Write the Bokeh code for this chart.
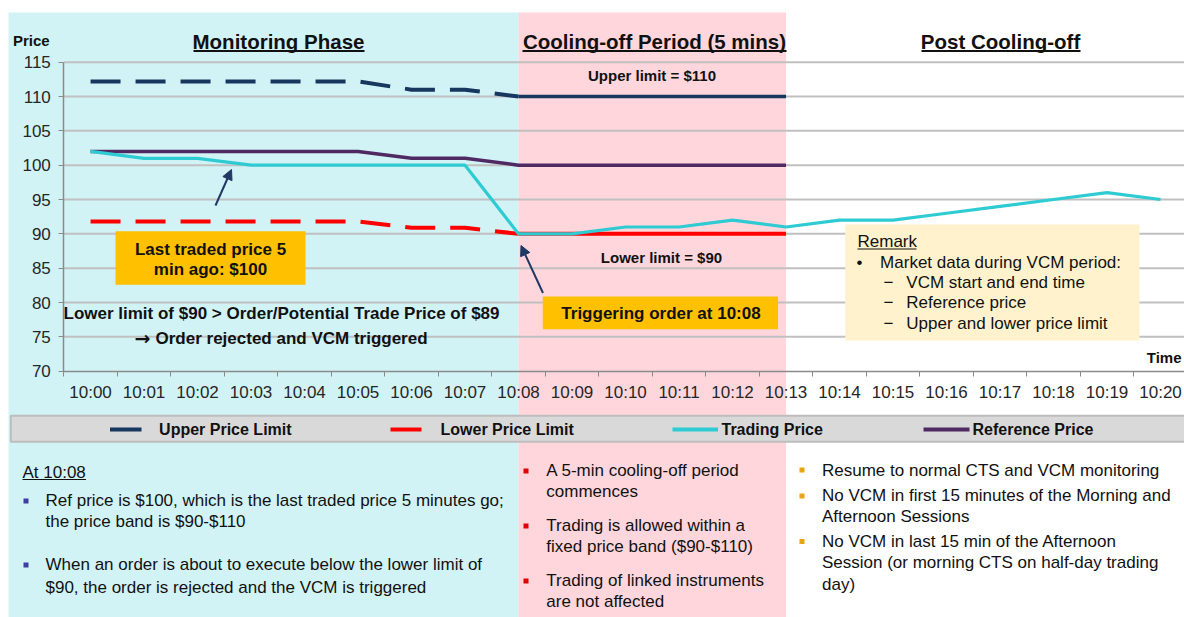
from bokeh.plotting import figure
from bokeh.models import Range1d, LinearAxis, FixedTicker, Arrow, NormalHead
from bokeh.core.properties import value
from bokeh.embed import file_html
from bokeh.resources import INLINE

# ---------------- data ----------------
times = ["10:00", "10:01", "10:02", "10:03", "10:04", "10:05", "10:06", "10:07",
         "10:08", "10:09", "10:10", "10:11", "10:12", "10:13", "10:14", "10:15",
         "10:16", "10:17", "10:18", "10:19", "10:20"]
upper_limit = [112.2, 112.2, 112.2, 112.2, 112.2, 112.2, 111.0, 111.0, 110.0,
               110.0, 110.0, 110.0, 110.0, 110.0]
lower_limit = [91.8, 91.8, 91.8, 91.8, 91.8, 91.8, 90.9, 90.9, 90.0,
               90.0, 90.0, 90.0, 90.0, 90.0]
reference_price = [102, 102, 102, 102, 102, 102, 101, 101, 100, 100, 100, 100, 100, 100]
trading_price = [102, 101, 101, 100, 100, 100, 100, 100, 90, 90, 91, 91, 92, 91,
                 92, 92, 93, 94, 95, 96, 95]
price_ticks = [70, 75, 80, 85, 90, 95, 100, 105, 110, 115]
legend_labels = ["Upper Price Limit", "Lower Price Limit", "Trading Price", "Reference Price"]

# ---------------- page-pixel helpers ----------------
W, H = 1184, 617
XS, X0 = 53.5, 90.05      # px per minute, page x of 10:00
YS, Y70 = 6.867, 370.7    # px per $, page y of $70


def dx(px):
    return (px - X0) / XS


def dy(py):
    return 70 + (Y70 - py) / YS


FONT = "Liberation Sans"
NAVY = "#17375E"
RED = "#FF0000"
CYAN = "#2ECBD3"
PURPLE = "#4F2A62"
ARROW = "#1F3864"

p = figure(width=W, height=H,
           x_range=Range1d(dx(0), dx(W)), y_range=Range1d(dy(H), dy(0)),
           output_backend="svg", toolbar_location=None,
           x_axis_location=None, y_axis_location=None,
           min_border=0, outline_line_color=None)
p.xgrid.visible = False
p.ygrid.visible = False
p.background_fill_color = "white"
p.border_fill_color = "white"

n_cool = len(reference_price)  # index range of monitoring + cooling-off

# background phases
p.quad(left=[dx(8)], right=[8], top=[dy(12)], bottom=[dy(H)],
       fill_color="#D1F3F6", line_color=None)
p.quad(left=[8], right=[n_cool - 1], top=[dy(12)], bottom=[dy(H)],
       fill_color="#FFD6DC", line_color=None)

# grid lines
p.segment(x0=[-0.5] * (len(price_ticks) - 1), x1=[dx(W)] * (len(price_ticks) - 1),
          y0=price_ticks[1:], y1=price_ticks[1:], line_color="#C0C0C0", line_width=2)

# axes
yax = LinearAxis(fixed_location=-0.5, ticker=FixedTicker(ticks=price_ticks),
                 bounds=(70, 115))
yax.axis_line_color = "#8A8A8A"
yax.axis_line_width = 1.5
yax.major_tick_line_color = "#8A8A8A"
yax.major_tick_out = 5
yax.major_tick_in = 0
yax.minor_tick_line_color = None
yax.major_label_standoff = 8
yax.major_label_text_font = FONT
yax.major_label_text_font_size = "17px"
yax.major_label_text_color = "#262626"
p.add_layout(yax, "left")

xidx = list(range(len(times)))
xax = LinearAxis(fixed_location=70,
                 ticker=FixedTicker(ticks=xidx, minor_ticks=[i - 0.5 for i in range(len(times) + 1)]),
                 bounds=(-0.5, dx(W)))
xax.major_label_overrides = {i: t for i, t in enumerate(times)}
xax.axis_line_color = "#8A8A8A"
xax.axis_line_width = 1.5
xax.major_tick_line_color = None
xax.major_tick_out = 0
xax.major_tick_in = 0
xax.minor_tick_line_color = "#8A8A8A"
xax.minor_tick_out = 5
xax.minor_tick_in = 0
xax.major_label_standoff = 7
xax.major_label_text_font = FONT
xax.major_label_text_font_size = "17px"
xax.major_label_text_color = "#262626"
p.add_layout(xax, "below")

# series
xc = list(range(n_cool))
p.line(xc[:9], upper_limit[:9], line_color=NAVY, line_width=4, line_dash="30 15")
p.line(xc[8:], upper_limit[8:], line_color=NAVY, line_width=3.5)
p.line(xc[:9], lower_limit[:9], line_color=RED, line_width=4, line_dash="30 15")
p.line(xc[8:], lower_limit[8:], line_color=RED, line_width=4)
p.line(xc, reference_price, line_color=PURPLE, line_width=3.5)
p.line(xidx, trading_price, line_color=CYAN, line_width=3.2)


def txt(px, py, s, size, bold=False, align="left", color="#111111", font=FONT):
    p.text(x=[dx(px)], y=[dy(py)], text=[s], text_font=value(font),
           text_font_size=f"{size}px", text_font_style="bold" if bold else "normal",
           text_align=align, text_baseline="middle", text_color=color)


def uline(x0, x1, py, w=1.5, color="#111111"):
    p.segment(x0=[dx(x0)], x1=[dx(x1)], y0=[dy(py)], y1=[dy(py)], line_color=color, line_width=w)


# titles
txt(278, 41, "Monitoring Phase", 20.5, True, "center")
uline(193, 364, 50.5, 2)
txt(654, 41, "Cooling-off Period (5 mins)", 20.5, True, "center")
uline(522, 786, 50.5, 2)
txt(1000, 41, "Post Cooling-off", 20.5, True, "center")
uline(921, 1080, 50.5, 2)

txt(12.5, 39.5, "Price", 15, True)
txt(1181, 357, "Time", 15, True, "right")

txt(651.5, 75, "Upper limit = $110", 15, True, "center")
txt(661, 257, "Lower limit = $90", 15, True, "center")

txt(281, 312.5, "Lower limit of $90 > Order/Potential Trade Price of $89", 17, True, "center")
txt(134, 337.5, "\u2192", 19, True, "left", font="DejaVu Sans")
txt(155, 337.5, "Order rejected and VCM triggered", 17, True, "left")

# orange call-outs
p.quad(left=[dx(115)], right=[dx(305)], top=[dy(230.7)], bottom=[dy(284.3)],
       fill_color="#FFC000", line_color=None)
txt(210, 248.5, "Last traded price 5", 17, True, "center")
txt(210, 269, "min ago: $100", 17, True, "center")
p.quad(left=[dx(542.3)], right=[dx(777.5)], top=[dy(296)], bottom=[dy(328.7)],
       fill_color="#FFC000", line_color=None)
txt(660.5, 313, "Triggering order at 10:08", 17, True, "center")

# arrows
p.add_layout(Arrow(end=NormalHead(size=10, fill_color=ARROW, line_color=ARROW),
                   x_start=dx(215), y_start=dy(205), x_end=dx(231), y_end=dy(169),
                   line_color=ARROW, line_width=2))
p.add_layout(Arrow(end=NormalHead(size=10, fill_color=ARROW, line_color=ARROW),
                   x_start=dx(542.5), y_start=dy(292.5), x_end=dx(520.5), y_end=dy(245),
                   line_color=ARROW, line_width=2))

# remark box
p.quad(left=[dx(844.7)], right=[dx(1139)], top=[dy(224)], bottom=[dy(340)],
       fill_color="#FFF2CC", line_color=None)
txt(857, 240.5, "Remark", 17)
uline(857, 916, 248.5, 1)
txt(856, 261.5, "\u2022", 17)
txt(879.6, 261.5, "Market data during VCM period:", 17)
for yy, s in [(281.5, "VCM start and end time"), (301.5, "Reference price"),
              (322.5, "Upper and lower price limit")]:
    txt(883, yy, "\u2212", 17)
    txt(905.8, yy, s, 17)

# legend bar
p.quad(left=[dx(10.3)], right=[dx(W + 5)], top=[dy(415.3)], bottom=[dy(441.3)],
       fill_color="#D9D9D9", line_color="#BDBDBD", line_width=2)
leg_colors = [NAVY, RED, CYAN, PURPLE]
leg_line = [(109.5, 141), (390, 421), (672, 717.5), (923, 969)]
leg_text_x = [158.6, 440, 721, 972]
for lab, col, (a, b), tx in zip(legend_labels, leg_colors, leg_line, leg_text_x):
    p.segment(x0=[dx(a)], x1=[dx(b)], y0=[dy(429)], y1=[dy(429)], line_color=col, line_width=4)
    txt(tx, 429, lab, 16, True)

# bottom panels
txt(22, 471.5, "At 10:08", 17)
uline(22, 85.5, 479, 1)
b1 = "#3F3FA0"
p.scatter(x=[dx(25.5), dx(25.5)], y=[dy(500.5), dy(564.5)], marker="square", size=5,
          fill_color=b1, line_color=None)
txt(45, 500, "Ref price is $100, which is the last traded price 5 minutes go;", 17)
txt(45, 520.5, "the price band is $90-$110", 17)
txt(45, 564, "When an order is about to execute below the lower limit of", 17)
txt(45, 586.5, "$90, the order is rejected and the VCM is triggered", 17)

b2 = "#E00000"
p.scatter(x=[dx(525.5)] * 3, y=[dy(470.5), dy(525.5), dy(580.5)], marker="square", size=5,
          fill_color=b2, line_color=None)
for yy, s in [(470, "A 5-min cooling-off period"), (490.5, "commences"),
              (525, "Trading is allowed within a"), (546, "fixed price band ($90-$110)"),
              (580, "Trading of linked instruments"), (600.5, "are not affected")]:
    txt(545.8, yy, s, 17)

b3 = "#E8A317"
p.scatter(x=[dx(801.5)] * 3, y=[dy(469.5), dy(495.5), dy(541)], marker="square", size=5,
          fill_color=b3, line_color=None)
for yy, s in [(469.5, "Resume to normal CTS and VCM monitoring"),
              (495, "No VCM in first 15 minutes of the Morning and"),
              (516, "Afternoon Sessions"),
              (540.5, "No VCM in last 15 min of the Afternoon"),
              (562, "Session (or morning CTS on half-day trading"),
              (583.5, "day)")]:
    txt(821.5, yy, s, 17)

open("out.html", "w").write(file_html(p, INLINE))
